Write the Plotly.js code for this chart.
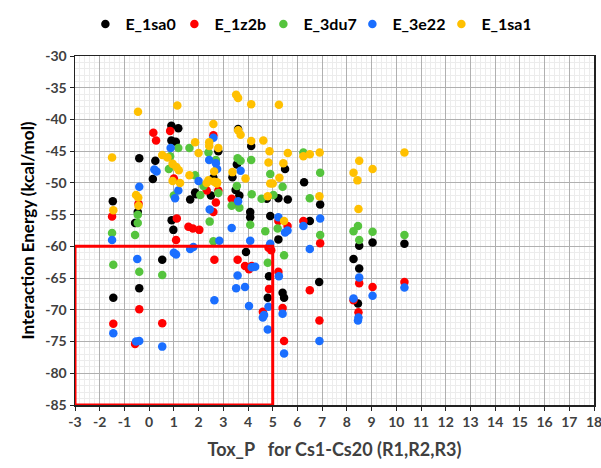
<!DOCTYPE html>
<html>
<head>
<meta charset="utf-8">
<script src="https://cdn.plot.ly/plotly-3.0.1.min.js"></script>
<style>html,body{margin:0;padding:0;background:#fff;}#chart{width:601px;height:468px;}</style>
</head>
<body>
<div id="chart"></div>
<script>
const seriesNames = ["E_1sa0", "E_1z2b", "E_3du7", "E_3e22", "E_1sa1"];
const seriesColors = ["#000000", "#FF0000", "#55C43D", "#1A6EFF", "#FFC000"];

const x_1sa0 = [-1.47,-1.45,-0.4,-0.46,-0.57,-0.4,0.15,0.25,0.53,0.9,1.18,0.9,1.08,0.91,0.98,1.66,1.9,1.86,2.5,2.8,2.6,3.37,3.55,3.5,3.6,3.65,3.92,4.09,4.09,4.13,4.76,4.9,4.85,4.8,5.5,5.23,5.61,5.23,5.4,5.46,6.27,6.5,6.92,6.88,8.5,8.27,8.5,8.45,9.04,10.33];
const y_1sa0 = [-52.9,-68.1,-46.1,-54.6,-56.3,-66.6,-49.4,-46.5,-62.1,-41.0,-41.4,-43.3,-43.5,-55.9,-57.4,-52.6,-51.8,-51.5,-52.0,-45.0,-49.2,-49.1,-47.1,-51.1,-41.5,-52.0,-60.9,-54.6,-55.4,-44.2,-52.5,-55.2,-64.7,-68.1,-47.8,-52.4,-52.6,-58.9,-67.3,-68.1,-49.9,-56.0,-53.4,-65.6,-59.9,-62.0,-63.5,-69.0,-59.4,-59.6];

const x_1z2b = [-1.5,-1.45,-0.43,-0.4,-0.57,0.17,0.28,0.53,0.85,1.0,1.12,1.09,1.59,1.77,2.03,2.33,2.7,2.6,2.6,2.8,2.64,3.34,3.41,3.58,3.88,4.04,4.15,4.6,4.85,4.83,4.94,5.23,5.6,5.23,5.4,5.46,6.24,6.92,6.5,6.89,8.5,8.27,8.47,9.04,10.33];
const y_1z2b = [-55.3,-72.2,-53.3,-69.9,-75.4,-42.1,-43.3,-72.1,-41.8,-49.3,-55.6,-59.0,-56.9,-57.2,-57.4,-51.2,-53.1,-54.6,-42.5,-51.2,-62.1,-52.5,-53.3,-62.1,-63.1,-63.6,-63.1,-70.3,-66.7,-60.2,-60.6,-56.0,-56.8,-64.0,-69.7,-74.9,-56.0,-59.5,-66.9,-71.7,-65.8,-68.5,-70.4,-66.4,-65.6];

const x_3du7 = [-1.5,-1.45,-0.46,-0.46,-0.57,-0.4,0.53,0.85,0.8,1.18,1.0,1.63,1.86,2.07,2.2,2.4,2.7,2.45,2.6,2.8,3.58,3.7,3.55,3.34,3.65,4.13,4.15,4.09,4.55,4.9,4.7,4.8,5.03,5.4,5.2,5.46,6.24,6.5,6.92,6.92,8.45,8.27,8.5,9.04,10.33];
const y_3du7 = [-57.9,-62.9,-55.0,-56.3,-58.2,-64.0,-64.5,-45.8,-47.8,-44.5,-52.0,-44.5,-48.8,-51.9,-50.5,-45.2,-46.4,-56.1,-59.2,-51.6,-46.1,-46.5,-50.5,-53.6,-53.9,-46.4,-51.8,-56.6,-52.5,-48.6,-57.6,-62.6,-51.9,-50.6,-57.2,-61.4,-45.2,-52.4,-48.4,-58.2,-56.8,-57.6,-59.0,-57.7,-58.2];

const x_3e22 = [-1.5,-1.45,-0.4,-0.48,-0.4,-0.53,0.21,0.3,0.53,0.87,1.18,1.05,1.09,1.0,1.66,1.79,2.0,2.6,2.43,2.7,2.75,2.45,2.84,2.64,3.34,3.6,3.7,3.58,3.52,3.88,4.09,4.15,4.29,4.04,4.65,4.6,4.8,4.83,4.9,5.23,5.6,5.5,5.25,5.4,5.46,6.24,6.92,6.5,6.89,8.5,8.27,8.47,8.45,9.04,10.33];
const y_3e22 = [-59.0,-73.7,-50.6,-62.0,-74.9,-75.0,-47.9,-48.2,-75.8,-44.5,-51.2,-52.4,-61.3,-61.0,-60.4,-60.1,-49.7,-42.9,-46.4,-46.9,-47.8,-54.2,-59.1,-68.5,-57.1,-52.9,-48.1,-64.6,-66.6,-66.4,-59.1,-63.3,-63.2,-69.4,-70.8,-71.2,-73.1,-69.5,-59.6,-55.4,-57.5,-57.8,-64.7,-70.6,-76.9,-56.8,-55.6,-60.4,-74.9,-64.9,-68.2,-71.2,-71.7,-67.8,-66.5];

const x_1sa1 = [-1.5,-1.45,-0.45,-0.53,-0.44,-0.43,0.53,0.74,1.14,0.95,1.1,1.2,0.95,1.25,1.86,2.0,1.63,2.6,2.43,2.43,2.8,2.63,2.4,2.63,2.75,2.33,2.74,3.52,3.6,3.6,3.7,3.37,3.9,4.13,4.13,4.62,4.87,4.83,4.9,5.0,4.8,5.25,5.61,5.43,5.27,5.46,6.24,6.5,6.9,6.89,8.5,8.27,8.43,8.47,9.04,10.33];
const y_1sa1 = [-46.0,-54.3,-38.8,-51.9,-52.3,-53.6,-45.6,-46.0,-37.8,-47.0,-47.5,-48.0,-49.7,-50.0,-43.6,-45.3,-48.8,-40.7,-43.6,-44.2,-44.5,-48.2,-49.6,-49.8,-49.9,-50.0,-50.1,-36.1,-36.6,-41.7,-42.4,-48.3,-49.3,-37.6,-43.4,-43.3,-45.0,-46.8,-50.1,-50.1,-52.1,-37.7,-45.3,-46.9,-49.2,-56.0,-45.8,-45.5,-45.2,-52.1,-46.5,-48.4,-49.6,-54.1,-47.8,-45.2];

const xTickVals = [-3,-2,-1,0,1,2,3,4,5,6,7,8,9,10,11,12,13,14,15,16,17,18];
const yTickVals = [-30,-35,-40,-45,-50,-55,-60,-65,-70,-75,-80,-85];
const xTitle = "Tox_P&nbsp;&nbsp; for Cs1-Cs20 (R1,R2,R3)";
const yTitle = "Interaction Energy (kcal/mol)";
const boxX = [-3, 5];
const boxY = [-85, -60];

const xs = [x_1sa0, x_1z2b, x_3du7, x_3e22, x_1sa1];
const ys = [y_1sa0, y_1z2b, y_3du7, y_3e22, y_1sa1];

const traces = seriesNames.map((n, i) => ({
  type: "scatter", mode: "markers", name: n,
  x: xs[i], y: ys[i],
  marker: {color: seriesColors[i], size: 8.5}
}));

const font = "Lato, 'Open Sans', sans-serif";
const layout = {
  width: 601, height: 468,
  margin: {l: 75, r: 7, t: 49, b: 63},
  paper_bgcolor: "#ffffff", plot_bgcolor: "#ffffff",
  showlegend: true,
  legend: {orientation: "h", x: 0.02, xanchor: "left", y: 1.14, yanchor: "top",
           font: {family: font, size: 16, color: "#000", weight: "bold"}, itemwidth: 30,
           entrywidth: 44, entrywidthmode: "pixels"},
  xaxis: {
    range: [-3, 18], tickvals: xTickVals, ticktext: xTickVals.map(String),
    showgrid: true, gridcolor: "#b0b0b0", gridwidth: 1,
    minor: {dtick: 0.2, showgrid: true, gridcolor: "#ececec", gridwidth: 1},
    zeroline: false, showline: true, linecolor: "#222", linewidth: 1.5, mirror: true,
    ticks: "outside", ticklen: 4, tickcolor: "#222", ticklabeloverflow: "allow",
    tickfont: {family: font, size: 14, color: "#404040", weight: "bold"},
    title: {text: "<b>" + xTitle + "</b>", font: {family: font, size: 18, color: "#404040"}, standoff: 14}
  },
  yaxis: {
    range: [-85, -30], tickvals: yTickVals, ticktext: yTickVals.map(String),
    showgrid: true, gridcolor: "#b0b0b0", gridwidth: 1,
    minor: {dtick: 1, showgrid: true, gridcolor: "#ececec", gridwidth: 1},
    zeroline: false, showline: true, linecolor: "#222", linewidth: 1.5, mirror: true,
    ticks: "outside", ticklen: 4, tickcolor: "#222",
    tickfont: {family: font, size: 14, color: "#404040", weight: "bold"},
    title: {text: "<b>" + yTitle + "</b>", font: {family: font, size: 17, color: "#000"}, standoff: 6}
  },
  shapes: [{
    type: "rect", xref: "x", yref: "y",
    x0: boxX[0], x1: boxX[1], y0: boxY[0], y1: boxY[1],
    line: {color: "#FF0000", width: 3}, fillcolor: "rgba(0,0,0,0)", layer: "above"
  }]
};

Plotly.newPlot("chart", traces, layout, {displayModeBar: false, staticPlot: true});
</script>
</body>
</html>
